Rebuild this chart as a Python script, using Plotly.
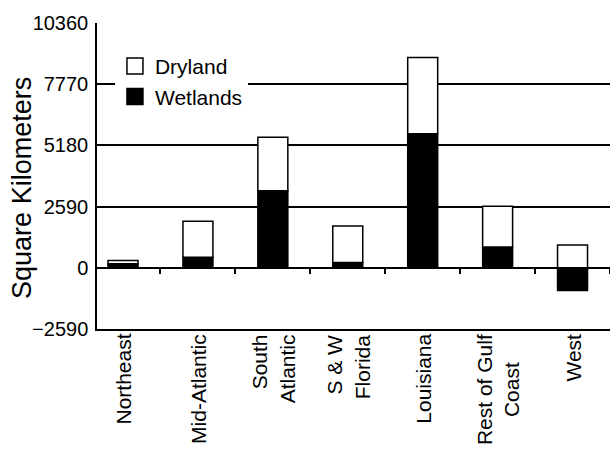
import plotly.graph_objects as go

regions = ["Northeast", "Mid-Atlantic", "South<br>Atlantic", "S & W<br>Florida",
           "Louisiana", "Rest of Gulf<br>Coast", "West"]
wetlands = [170, 450, 3260, 220, 5670, 880, -960]
totals = [305, 1965, 5530, 1765, 8895, 2610, 970]
dryland = [t - max(w, 0) for t, w in zip(totals, wetlands)]
y_ticks = [-2590, 0, 2590, 5180, 7770, 10360]

FONT = "Liberation Sans, Arial, sans-serif"
xpos = list(range(len(regions)))
y_min, y_max = y_ticks[0], y_ticks[-1]

fig = go.Figure()
fig.add_trace(go.Bar(x=xpos, y=wetlands, name="Wetlands", width=0.4, showlegend=False,
                     marker=dict(color="black", line=dict(color="black", width=1.5))))
fig.add_trace(go.Bar(x=xpos, y=dryland, name="Dryland", width=0.4, showlegend=False,
                     marker=dict(color="white", line=dict(color="black", width=1.5))))
# legend-only entries (larger square swatches)
fig.add_trace(go.Scatter(x=[None], y=[None], mode="markers", name="Wetlands",
                         marker=dict(symbol="square", size=20, color="black",
                                     line=dict(color="black", width=1.5))))
fig.add_trace(go.Scatter(x=[None], y=[None], mode="markers", name="Dryland",
                         marker=dict(symbol="square", size=20, color="white",
                                     line=dict(color="black", width=1.5))))
# invisible helper trace for the tick marks along the zero line
fig.add_trace(go.Scatter(x=[None], y=[None], xaxis="x2", showlegend=False,
                         hoverinfo="skip"))

annotations = [dict(x=i, xref="x", y=0, yref="paper", yshift=-3,
                    xanchor="center", yanchor="top", textangle=-90,
                    showarrow=False, text=lab, font=dict(size=21),
                    align="center" if lab.startswith("Rest") else "right")
               for i, lab in zip(xpos, regions)]
annotations.append(dict(x=0, xref="paper", xshift=-75, y=0.461, yref="paper",
                        xanchor="center", yanchor="middle", textangle=-90,
                        showarrow=False, text="Square Kilometers",
                        font=dict(size=27)))

fig.update_layout(
    width=610, height=453,
    margin=dict(l=97, r=0, t=23, b=124),
    paper_bgcolor="white", plot_bgcolor="white",
    barmode="relative",
    font=dict(family=FONT, size=20, color="black"),
    showlegend=True,
    legend=dict(x=0.035, y=0.925, xanchor="left", yanchor="top",
                bgcolor="white", traceorder="reversed", itemsizing="trace",
                font=dict(size=21), tracegroupgap=0),
    annotations=annotations,
    xaxis=dict(type="linear", range=[-0.347, 6.5],
               showticklabels=False,
               showgrid=False, zeroline=False, showline=True,
               linecolor="black", linewidth=1.5, ticks=""),
    xaxis2=dict(type="linear", range=[-0.347, 6.5], overlaying="x",
                anchor="free", position=(0 - y_min) / (y_max - y_min),
                side="bottom", tickvals=[i + 0.5 for i in xpos],
                ticks="outside", ticklen=5, tickwidth=1.5, tickcolor="black",
                showticklabels=False, showgrid=False, zeroline=False,
                showline=False),
    yaxis=dict(range=[y_min, y_max], tickvals=y_ticks,
               ticktext=[("\u2212" + str(-v)) if v < 0 else str(v) for v in y_ticks],
               showgrid=True, gridcolor="black", gridwidth=1.5,
               zeroline=True, zerolinecolor="black", zerolinewidth=1.5,
               showline=True, linecolor="black", linewidth=1.5,
               ticks="", tickfont=dict(size=20), ticklabelstandoff=3),
)

fig.write_html("out.html", config={"displayModeBar": False},
               post_script="document.body.style.margin='0';")
